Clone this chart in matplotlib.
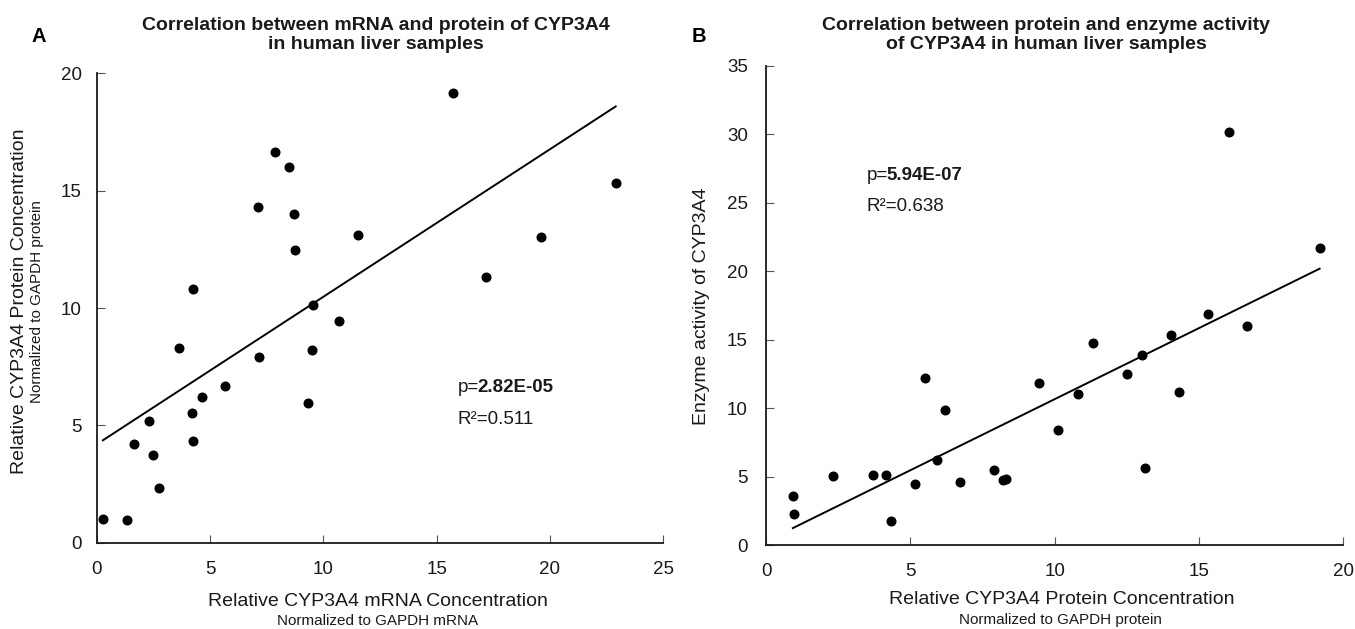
import matplotlib
matplotlib.use("Agg")
import matplotlib.pyplot as plt
import numpy as np

plt.rcParams['font.family'] = ['Liberation Sans', 'DejaVu Sans']

# ---------------- data ----------------
# Panel A: mRNA (x) vs protein (y)
mrna_x = [0.26, 1.32, 1.62, 2.29, 2.47, 2.76, 3.63, 4.25, 4.19, 4.26, 4.63, 5.65,
          7.10, 7.15, 7.85, 8.48, 8.69, 8.75, 9.31, 9.53, 9.51, 10.70, 11.54,
          15.73, 17.16, 19.63, 22.91]
protein_y = [1.00, 0.97, 4.19, 5.19, 3.74, 2.34, 8.31, 10.82, 5.51, 4.35, 6.19, 6.69,
             14.29, 7.93, 16.66, 15.99, 13.99, 12.49, 5.95, 10.13, 8.22, 9.45, 13.11,
             19.15, 11.32, 13.03, 15.31]
fit_a_intercept = 4.20
fit_a_slope = 0.628
p_a = "2.82E-05"
r2_a = "0.511"

# Panel B: protein (x) vs enzyme activity (y)
prot_x = [0.93, 0.98, 2.31, 3.72, 4.16, 4.33, 5.16, 5.50, 5.94, 6.19, 6.71, 7.90,
          8.21, 8.33, 9.45, 10.12, 10.82, 11.34, 12.49, 13.03, 13.12, 14.03, 14.32,
          15.31, 16.03, 16.67, 19.18]
activity_y = [3.58, 2.31, 5.08, 5.16, 5.16, 1.75, 4.45, 12.19, 6.23, 9.88, 4.60, 5.47,
              4.77, 4.82, 11.88, 8.40, 11.03, 14.77, 12.53, 13.92, 5.64, 15.33, 11.19,
              16.87, 30.16, 16.01, 21.69]
fit_b_intercept = 0.29
fit_b_slope = 1.038
p_b = "5.94E-07"
r2_b = "0.638"

xticks_a = [0, 5, 10, 15, 20, 25]
yticks_a = [0, 5, 10, 15, 20]
xticks_b = [0, 5, 10, 15, 20]
yticks_b = [0, 5, 10, 15, 20, 25, 30, 35]

# ---------------- figure ----------------
W, H = 1355, 629
fig = plt.figure(figsize=(W / 100, H / 100), dpi=100)

def fx(px):
    return px / W

def fy(py):
    return 1 - py / H

ink = '#1a1a1a'

def style_axes(ax, xticks, yticks, ypad):
    for s in ['top', 'right']:
        ax.spines[s].set_visible(False)
    for s in ['left', 'bottom']:
        ax.spines[s].set_linewidth(1.3)
        ax.spines[s].set_color(ink)
    ax.set_xticks(xticks)
    ax.set_yticks(yticks)
    ax.tick_params(axis='both', direction='in', length=6, width=0.8,
                   colors='#555555', labelcolor=ink, labelsize=13.5)
    ax.tick_params(axis='x', pad=13)
    ax.tick_params(axis='y', pad=ypad)
    ax.set_facecolor('white')

# Panel A
axA = fig.add_axes([fx(97), fy(542.7), fx(663 - 97), (542.7 - 73.3) / H])
axA.set_xlim(0, 25)
axA.set_ylim(0, 20)
style_axes(axA, xticks_a, yticks_a, 11)
axA.plot(mrna_x, protein_y, 'o', color='black', ms=6.2, clip_on=False, zorder=3)
xa = np.array([min(mrna_x), max(mrna_x)])
axA.plot(xa, fit_a_intercept + fit_a_slope * xa, color='black', lw=1.4)

tA = fig.text(fx(458), fy(388), "p=", fontsize=13.5, color=ink, va='center', ha='left')
axA.annotate(p_a, xy=(1, 0.5), xycoords=tA, xytext=(-1.2, 0), textcoords='offset points',
             va='center', ha='left', fontsize=13.5, fontweight='bold', color=ink)
fig.text(fx(458), fy(420), "R\u00b2=" + r2_a, fontsize=13.5, color=ink, va='center', ha='left')

# Panel B
axB = fig.add_axes([fx(766), fy(545.3), fx(1343.3 - 766), (545.3 - 66) / H])
axB.set_xlim(0, 20)
axB.set_ylim(0, 35)
style_axes(axB, xticks_b, yticks_b, 13)
axB.plot(prot_x, activity_y, 'o', color='black', ms=6.2, clip_on=False, zorder=3)
xb = np.array([min(prot_x), max(prot_x)])
axB.plot(xb, fit_b_intercept + fit_b_slope * xb, color='black', lw=1.4)

tB = fig.text(fx(867), fy(175), "p=", fontsize=13.5, color=ink, va='center', ha='left')
axB.annotate(p_b, xy=(1, 0.5), xycoords=tB, xytext=(-1.2, 0), textcoords='offset points',
             va='center', ha='left', fontsize=13.5, fontweight='bold', color=ink)
fig.text(fx(867), fy(207), "R\u00b2=" + r2_b, fontsize=13.5, color=ink, va='center', ha='left')

# Titles and panel letters
fig.text(fx(376), fy(35), "Correlation between mRNA and protein of CYP3A4\nin human liver samples",
         ha='center', va='center', fontsize=14, fontweight='bold', linespacing=1.12, color=ink)
fig.text(fx(1046), fy(35), "Correlation between protein and enzyme activity\nof CYP3A4 in human liver samples",
         ha='center', va='center', fontsize=14, fontweight='bold', linespacing=1.12, color=ink)
fig.text(fx(39), fy(36), "A", ha='center', va='center', fontsize=14.5, fontweight='bold', color='black')
fig.text(fx(699), fy(36), "B", ha='center', va='center', fontsize=14.5, fontweight='bold', color='black')

# Axis labels
fig.text(fx(378), fy(601.5), "Relative CYP3A4 mRNA Concentration", ha='center', va='center',
         fontsize=14, color=ink)
fig.text(fx(378), fy(621), "Normalized to GAPDH mRNA", ha='center', va='center',
         fontsize=11, color=ink)
fig.text(fx(20), fy(301), "Relative CYP3A4 Protein Concentration", ha='center', va='center',
         rotation=90, fontsize=14, color=ink)
fig.text(fx(37), fy(302), "Normalized to GAPDH protein", ha='center', va='center',
         rotation=90, fontsize=11, color=ink)

fig.text(fx(1062), fy(600), "Relative CYP3A4 Protein Concentration", ha='center', va='center',
         fontsize=14, color=ink)
fig.text(fx(1060), fy(620), "Normalized to GAPDH protein", ha='center', va='center',
         fontsize=11, color=ink)
fig.text(fx(702), fy(306), "Enzyme activity of CYP3A4", ha='center', va='center',
         rotation=90, fontsize=14, color=ink)

fig.savefig("out.png", dpi=100, facecolor='white')
